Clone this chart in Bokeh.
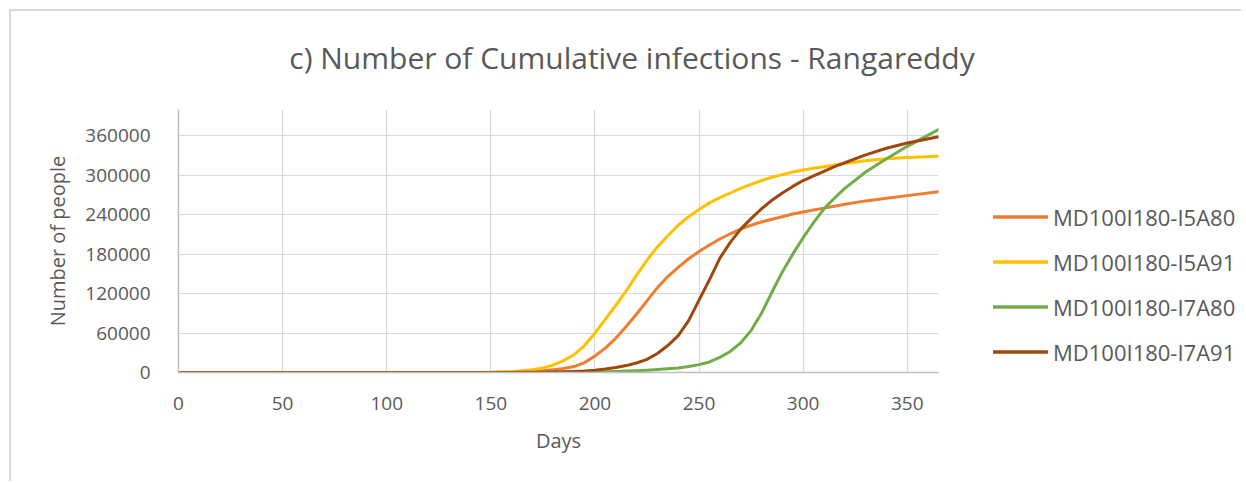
from bokeh.plotting import figure
from bokeh.layouts import column, row
from bokeh.models import Range1d, FixedTicker, Label, Legend, LegendItem, NumeralTickFormatter
from bokeh.embed import file_html
from bokeh.resources import INLINE

title_text = "c) Number of Cumulative infections - Rangareddy"
x_label = "Days"
y_label = "Number of people"

x_ticks = [0, 50, 100, 150, 200, 250, 300, 350]
y_ticks = [0, 60000, 120000, 180000, 240000, 300000, 360000]

days = [0, 100,
        150, 155, 160, 165, 170, 175, 180, 185, 190, 195,
        200, 205, 210, 215, 220, 225, 230, 235, 240, 245,
        250, 255, 260, 265, 270, 275, 280, 285, 290, 295,
        300, 305, 310, 315, 320,
        330, 340, 350, 365]

series_names = ["MD100I180-I5A80", "MD100I180-I5A91", "MD100I180-I7A80", "MD100I180-I7A91"]

i5a80 = [0, 0,
         100, 250, 500, 900, 1600, 2700, 4200, 6000, 9000, 15000,
         25000, 37000, 52000, 70000, 89000, 109000, 129000, 146000, 160000, 173000,
         184000, 194000, 203000, 211000, 218000, 224000, 229000, 233000, 237000, 241000,
         244000, 247000, 250000, 253000, 256000,
         261000, 265000, 269000, 275000]
i5a91 = [0, 0,
         300, 700, 1300, 2500, 4300, 7000, 11500, 18000, 27000, 41000,
         60000, 81000, 102000, 124000, 148000, 171000, 191000, 208000, 224000, 237000,
         248000, 258000, 266000, 273000, 280000, 286000, 292000, 297000, 301000, 305000,
         308000, 310500, 313000, 315500, 318000,
         322000, 325000, 327000, 329000]
i7a80 = [0, 0,
         0, 0, 50, 80, 100, 150, 200, 300, 500, 700,
         1000, 1300, 1700, 2200, 2800, 3600, 4500, 5600, 7000, 9000,
         12000, 16000, 23000, 32000, 45000, 64000, 90000, 122000, 153000, 180000,
         205000, 228000, 249000, 265000, 280000,
         305000, 325000, 344000, 369500]
i7a91 = [0, 0,
         0, 50, 100, 200, 300, 500, 700, 1000, 1500, 2300,
         3500, 5200, 7500, 10500, 14500, 20000, 29000, 41000, 56000, 79000,
         110000, 141000, 174000, 198000, 218000, 234000, 249000, 262000, 273000, 283000,
         292000, 299000, 306000, 313000, 319000,
         331000, 341000, 349000, 358500]

series_values = [i5a80, i5a91, i7a80, i7a91]
colors = ["#ED7D31", "#FFC000", "#70AD47", "#9E480E"]

FONT = "Open Sans"
TXT = "#595959"

TOTAL_W = 1230
TITLE_H = 90
MAIN_W, MAIN_H = 960, 380
LEG_W = TOTAL_W - MAIN_W


def bare(width, height, **kw):
    f = figure(width=width, height=height, output_backend="svg", toolbar_location=None,
               x_axis_type=None, y_axis_type=None, min_border=0, **kw)
    f.outline_line_color = None
    f.xgrid.visible = False
    f.ygrid.visible = False
    f.background_fill_color = "white"
    f.border_fill_color = "white"
    return f


# --- title strip ---
pt = bare(TOTAL_W, TITLE_H, x_range=Range1d(0, 1), y_range=Range1d(0, 1))
pt.add_layout(Label(x=620.5, y=44, x_units="screen", y_units="screen", text=title_text,
                    text_align="center", text_baseline="alphabetic", text_font=FONT,
                    text_font_size="30px", text_color=TXT))

# --- main chart ---
p = figure(width=MAIN_W, height=MAIN_H, output_backend="svg", toolbar_location=None,
           x_range=Range1d(0, 365), y_range=Range1d(0, 400000),
           min_border_left=167, min_border_right=33, min_border_top=8, min_border_bottom=109)
p.outline_line_color = None
p.background_fill_color = "white"
p.border_fill_color = "white"

p.xaxis.ticker = FixedTicker(ticks=x_ticks)
p.yaxis.ticker = FixedTicker(ticks=y_ticks)
p.yaxis.formatter = NumeralTickFormatter(format="0")

for ax in [p.xaxis[0], p.yaxis[0]]:
    ax.major_tick_line_color = None
    ax.minor_tick_line_color = None
    ax.major_label_text_font = FONT
    ax.major_label_text_font_size = "19px"
    ax.major_label_text_color = TXT
    ax.axis_label_text_font = FONT
    ax.axis_label_text_font_size = "20px"
    ax.axis_label_text_font_style = "normal"
    ax.axis_label_text_color = TXT
    ax.axis_line_color = "#bfbfbf"
    ax.axis_line_width = 1.5

p.xaxis.axis_label = x_label
p.yaxis.axis_label = y_label
p.xaxis.major_label_standoff = 18
p.yaxis.major_label_standoff = 22
p.xaxis.axis_label_standoff = 14
p.yaxis.axis_label_standoff = 11

p.xgrid.grid_line_color = "#d9d9d9"
p.ygrid.grid_line_color = "#d9d9d9"
p.xgrid.grid_line_width = 1.2
p.ygrid.grid_line_width = 1.2

for name, vals, col in zip(series_names, series_values, colors):
    p.line(days, vals, line_color=col, line_width=3, line_join="round", line_cap="round")

# --- legend panel (its ranges keep the series out of view; only the legend shows) ---
pl = bare(LEG_W, MAIN_H, x_range=Range1d(-2, -1), y_range=Range1d(-2, -1))
items = []
for name, vals, col in zip(series_names, series_values, colors):
    r = pl.line(days, vals, line_color=col, line_width=3.5, line_cap="round")
    items.append(LegendItem(label=name, renderers=[r]))
legend = Legend(items=items, location=(22, -2), orientation="vertical",
                glyph_width=55, glyph_height=45, label_height=45, spacing=0,
                label_standoff=5, padding=0, margin=0,
                border_line_color=None, background_fill_alpha=0,
                label_text_font=FONT, label_text_font_size="22px", label_text_color=TXT)
pl.add_layout(legend, "center")

layout = column(pt, row(p, pl, spacing=0), spacing=0,
                styles={"border-left": "2px solid #d9d9d9", "border-top": "2px solid #d9d9d9",
                        "margin-left": "9px", "margin-top": "9px"})

open("out.html", "w").write(file_html(layout, INLINE))
